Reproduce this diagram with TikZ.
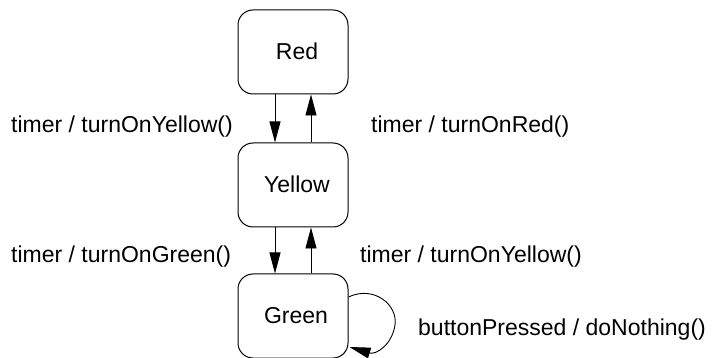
\documentclass[tikz,border=0pt]{standalone}
\usepackage{fontspec}
\setmainfont{Liberation Sans}
\usetikzlibrary{arrows.meta}
\begin{document}
\begin{tikzpicture}[x=1pt,y=-1pt,
  every node/.style={font=\fontsize{23}{28}\selectfont},
  statebox/.style={draw, line width=1pt, rounded corners=15pt, minimum width=110pt, minimum height=84pt, inner sep=0pt},
  trans/.style={line width=0.9pt, -{Triangle[length=21pt,width=11pt]}},
  lbl/.style={anchor=base west, inner sep=0pt}]
\useasboundingbox (0,0) rectangle (718,358);
\node[statebox] (red) at (293,52) {\hspace*{8pt}\raisebox{1.5pt}{Red}};
\node[statebox] (yellow) at (293,185) {\hspace*{8pt}\raisebox{1.5pt}{Yellow}};
\node[statebox] (green) at (293,316) {\hspace*{6pt}\raisebox{1.5pt}{Green}};
\draw[trans] ([xshift=-18pt]red.south) -- ([xshift=-18pt]yellow.north);
\draw[trans] ([xshift=18pt]yellow.north) -- ([xshift=18pt]red.south);
\draw[trans] ([xshift=-18pt]yellow.south) -- ([xshift=-18pt]green.north);
\draw[trans] ([xshift=18pt]green.north) -- ([xshift=18pt]yellow.south);
\coordinate (ls) at ([yshift=19pt]green.east);
\coordinate (le) at ([shift={(1pt,-31pt)}]green.east);
\draw[trans] (ls) .. controls (374,285) and (398,305) .. (395,325) .. controls (392,345) and (376,355) .. (le);
\node[lbl] (l1) at (11,133) {timer / turnOnYellow()};
\node[lbl] (l2) at (371,133) {timer / turnOnRed()};
\node[lbl] (l3) at (11,263) {timer / turnOnGreen()};
\node[lbl] (l4) at (360,263) {timer / turnOnYellow()};
\node[lbl] (l5) at (418,335) {buttonPressed / doNothing()};
\end{tikzpicture}
\end{document}
